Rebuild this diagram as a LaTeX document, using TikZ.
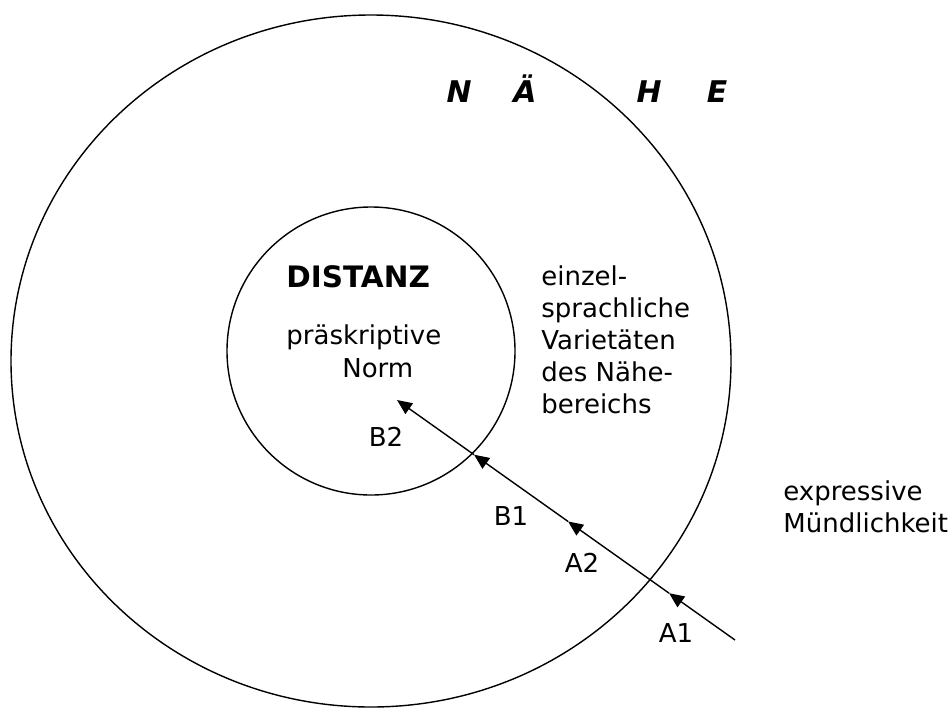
\documentclass[tikz,border=0pt]{standalone}
\usepackage{xcolor}
\usepackage{fontspec}
\setmainfont{DejaVu Sans}
\usepackage{tikz}
\usetikzlibrary{arrows.meta,calc}
\definecolor{ink}{RGB}{0,0,0}
\tikzset{
  ring/.style={draw=ink, line width=0.8pt},
  txt/.style={
    anchor=west, inner sep=0pt, align=left, text=ink,
    font=\fontsize{14.8}{18.2}\selectfont,
  },
  ptlbl/.style={inner sep=1pt, text=ink, font=\fontsize{14.8}{18.2}\selectfont},
  naehe/.style={anchor=base, inner sep=0pt, text=ink,
    font=\fontsize{17}{20}\selectfont\bfseries\itshape},
  arr/.style={-{Triangle[length=3mm,width=2.6mm]}, line width=0.8pt, draw=ink},
}

\begin{document}
\begin{tikzpicture}[x=0.2mm,y=-0.2mm]
  \useasboundingbox (0,0) rectangle (950,708);

  % circles
  \draw[ring] (371,361) ellipse [x radius=360, y radius=346];
  \draw[ring] (371,351) circle [radius=144];

  % inner area
  \node[txt, font=\fontsize{16.8}{18.2}\selectfont\bfseries] (distanz) at (286,277) {DISTANZ};
  \node[txt] (praes) at (286,337) {präskriptive};
  \node[txt] (norm) at (342,368) {Norm};

  % outer area
  \foreach \ltr/\lx in {N/459,Ä/525,H/649,E/717}
    \node[naehe] (n\lx) at (\lx,102) {\ltr};
  \node[txt] (varit) at (541,340) {einzel-\\sprachliche\\Varietäten\\des Nähe-\\bereichs};
  \node[txt] (expr) at (783,507) {expressive\\Mündlichkeit};

  % path
  \coordinate (tail) at (735,640);
  \coordinate (head) at (397,400);
  \coordinate (pA1) at ($(tail)!0.195!(head)$);
  \coordinate (pA2) at ($(tail)!0.494!(head)$);
  \coordinate (pB1) at ($(tail)!0.772!(head)$);
  \draw[arr] (tail) -- (pA1);
  \draw[arr] (pA1) -- (pA2);
  \draw[arr] (pA2) -- (pB1);
  \draw[arr] (pB1) -- (head);

  \node[ptlbl] (a1) at (676,633) {A1};
  \node[ptlbl, fill=white] (a2) at (582,563) {A2};
  \node[ptlbl] (b1) at (511,516) {B1};
  \node[ptlbl] (b2) at (386,437) {B2};
\end{tikzpicture}
\end{document}
